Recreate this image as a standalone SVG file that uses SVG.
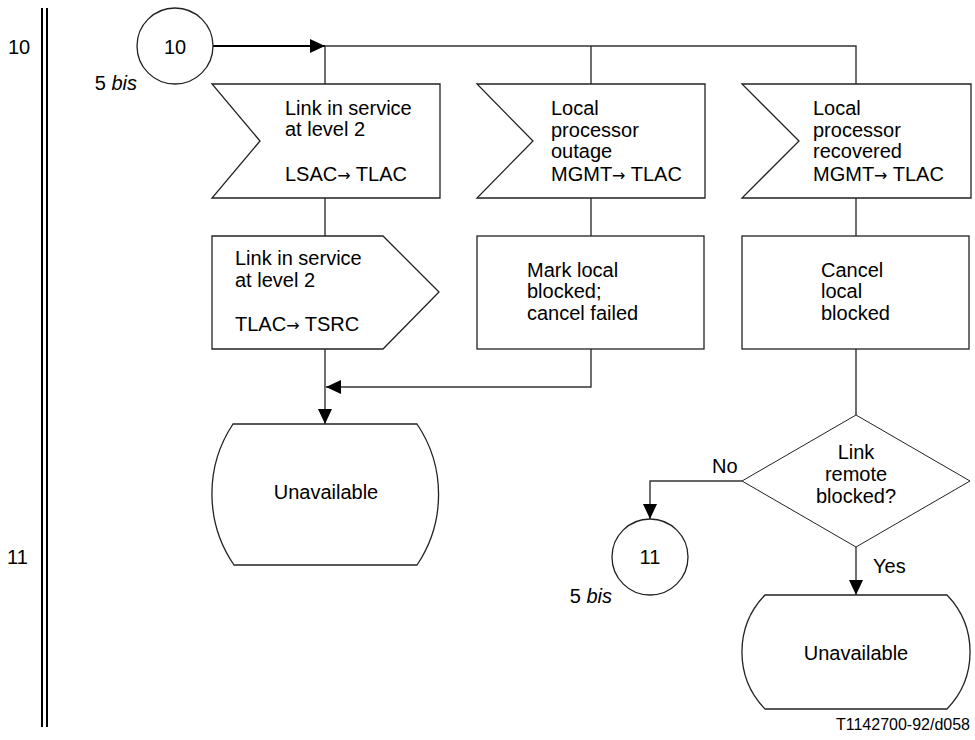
<svg xmlns="http://www.w3.org/2000/svg" width="975" height="740" viewBox="0 0 975 740">
<style>
text{font-family:"Liberation Sans",Arial,sans-serif;font-size:20px;fill:#000}
.sh{fill:#fff;stroke:#222;stroke-width:1.3}
.ln{fill:none;stroke:#333;stroke-width:1.4}
.th{fill:none;stroke:#000;stroke-width:2}
.ar{font-family:"DejaVu Sans",sans-serif;font-size:16px}
.mid{text-anchor:middle}
.sm{font-size:16px}
</style>
<defs>
<marker id="ah" markerUnits="userSpaceOnUse" viewBox="0 0 15 14" refX="15" refY="7" markerWidth="15" markerHeight="14" orient="auto">
<path d="M0,0 L15,7 L0,14 z" fill="#000"/>
</marker>
</defs>
<g id="frame">
<line x1="42" y1="8" x2="42" y2="727" class="th"/>
<line x1="47" y1="8" x2="47" y2="727" class="th"/>
<text x="8" y="54">10</text>
<text x="7" y="564">11</text>
</g>
<g id="connectors">
<path class="th" d="M213,46 H325" marker-end="url(#ah)"/>
<path class="ln" d="M325,46 H856 V84 M325,46 V84 M591,46 V84"/>
<path class="ln" d="M325,198 V236 M591,198 V236 M856,198 V236"/>
<path class="ln" d="M325,349 V424" marker-end="url(#ah)"/>
<path class="ln" d="M591,349 V387 H326" marker-end="url(#ah)"/>
<path class="ln" d="M856,349 V415"/>
<path class="ln" d="M742,481 H650 V519" marker-end="url(#ah)"/>
<path class="ln" d="M856,547 V595" marker-end="url(#ah)"/>
</g>
<g id="conn10">
<circle cx="175" cy="46" r="38" class="sh"/>
<text x="175" y="54" class="mid">10</text>
<text x="137" y="90" style="text-anchor:end">5 <tspan font-style="italic">bis</tspan></text>
</g>
<g id="in1">
<path class="sh" d="M212,84 H440 V198 H212 L260,141 Z"/>
<text x="285" y="115">Link in service</text>
<text x="285" y="136">at level 2</text>
<text x="285" y="181">LSAC<tspan class="ar">→</tspan> TLAC</text>
</g>
<g id="in2">
<path class="sh" d="M477,84 H705 V198 H477 L533,141 Z"/>
<text x="551" y="115">Local</text>
<text x="551" y="137">processor</text>
<text x="551" y="158">outage</text>
<text x="551" y="181">MGMT<tspan class="ar">→</tspan> TLAC</text>
</g>
<g id="in3">
<path class="sh" d="M742,84 H971 V198 H742 L799,141 Z"/>
<text x="813" y="115">Local</text>
<text x="813" y="137">processor</text>
<text x="813" y="158">recovered</text>
<text x="813" y="181">MGMT<tspan class="ar">→</tspan> TLAC</text>
</g>
<g id="out1">
<path class="sh" d="M212,236 H383 L439,292 L383,349 H212 Z"/>
<text x="235" y="265">Link in service</text>
<text x="235" y="287">at level 2</text>
<text x="235" y="331">TLAC<tspan class="ar">→</tspan> TSRC</text>
</g>
<g id="task2">
<rect x="477" y="236" width="227" height="113" class="sh"/>
<text x="527" y="277">Mark local</text>
<text x="527" y="298">blocked;</text>
<text x="527" y="320">cancel failed</text>
</g>
<g id="task3">
<rect x="742" y="236" width="227" height="113" class="sh"/>
<text x="821" y="277">Cancel</text>
<text x="821" y="298">local</text>
<text x="821" y="320">blocked</text>
</g>
<g id="state1">
<path class="sh" d="M233,424 H417 A126,126 0 0 1 417,565 H234 A126,126 0 0 1 233,424 Z"/>
<text x="326" y="499" class="mid">Unavailable</text>
</g>
<g id="decision">
<path class="sh" d="M856,415 L970,481 L856,547 L742,481 Z" style="stroke-width:1"/>
<text x="856" y="459" class="mid">Link</text>
<text x="856" y="481" class="mid">remote</text>
<text x="856" y="503" class="mid">blocked?</text>
<text x="712" y="473">No</text>
<text x="873" y="573">Yes</text>
</g>
<g id="conn11">
<circle cx="650" cy="557" r="38" class="sh"/>
<text x="650" y="564" class="mid">11</text>
<text x="612" y="603" style="text-anchor:end">5 <tspan font-style="italic">bis</tspan></text>
</g>
<g id="state2">
<path class="sh" d="M765,595 H947 A82,82 0 0 1 947,709 H765 A82,82 0 0 1 765,595 Z"/>
<text x="856" y="660" class="mid">Unavailable</text>
</g>
<text x="970" y="730" class="sm" style="text-anchor:end">T1142700-92/d058</text>
</svg>
